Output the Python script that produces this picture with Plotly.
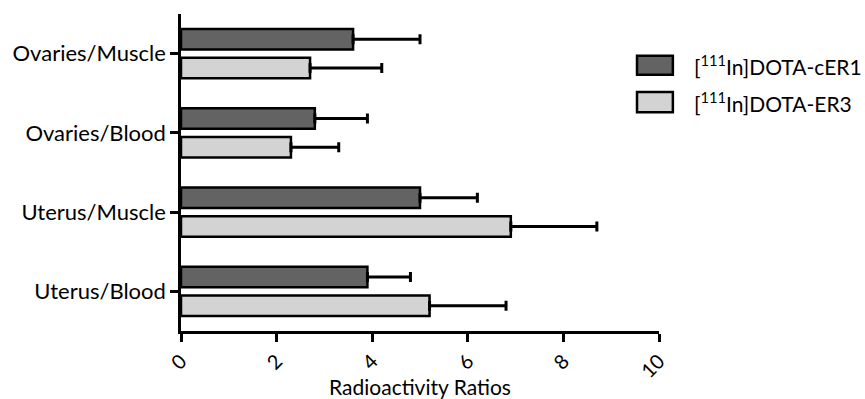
import plotly.graph_objects as go

categories = ["Ovaries/Muscle", "Ovaries/Blood", "Uterus/Muscle", "Uterus/Blood"]
cer1_values = [3.6, 2.8, 5.0, 3.9]
cer1_errors = [1.4, 1.1, 1.2, 0.9]
er3_values = [2.7, 2.3, 6.9, 5.2]
er3_errors = [1.5, 1.0, 1.8, 1.6]
series_names = ["[<sup>111</sup>In]DOTA-cER1", "[<sup>111</sup>In]DOTA-ER3"]
series_colors = ["#636363", "#d3d3d3"]
x_ticks = [0, 2, 4, 6, 8, 10]

FONT = "Lato, 'Open Sans', sans-serif"

fig = go.Figure()
for vals, errs, name, color in [
    (cer1_values, cer1_errors, series_names[0], series_colors[0]),
    (er3_values, er3_errors, series_names[1], series_colors[1]),
]:
    fig.add_trace(go.Bar(
        y=categories, x=vals, orientation="h", name=name,
        marker=dict(color=color, line=dict(color="black", width=2.5)),
        error_x=dict(type="data", array=errs, arrayminus=[0] * len(errs),
                     symmetric=False, color="black", thickness=3, width=5),
        showlegend=False,
    ))

# custom legend (large keys like the reference)
legend_rows = [(0.868, 0.808), (0.754, 0.690)]
for (y1, y0), name, color in zip(legend_rows, series_names, series_colors):
    fig.add_shape(type="rect", xref="paper", yref="paper",
                  x0=0.954, x1=1.029, y0=y0, y1=y1,
                  fillcolor=color, line=dict(color="black", width=2.5))
    fig.add_annotation(xref="paper", yref="paper", x=1.068, y=(y0 + y1) / 2,
                       text=name, showarrow=False, xanchor="left", yanchor="middle",
                       font=dict(family=FONT, size=21, color="black"))

fig.update_layout(
    width=865, height=399,
    margin=dict(l=181, r=206, t=14, b=68),
    plot_bgcolor="white", paper_bgcolor="white",
    barmode="group", bargap=0.27, bargroupgap=0.29,
    font=dict(family=FONT, size=22, color="black"),
    xaxis=dict(range=[0, 10], tickvals=x_ticks, tickangle=-45,
               tickfont=dict(family=FONT, size=20),
               showline=True, linecolor="black", linewidth=2.5,
               ticks="outside", ticklen=8, tickwidth=2.5, tickcolor="black",
               showgrid=False, zeroline=False, automargin=False,
               title=dict(text="Radioactivity Ratios", standoff=8,
                          font=dict(family=FONT, size=21))),
    yaxis=dict(range=[3.5, -0.5], showline=True, linecolor="black", linewidth=2.5,
               ticks="outside", ticklen=8, tickwidth=2.5, tickcolor="black",
               showgrid=False, zeroline=False, automargin=False),
)

fig.write_html("out.html")
